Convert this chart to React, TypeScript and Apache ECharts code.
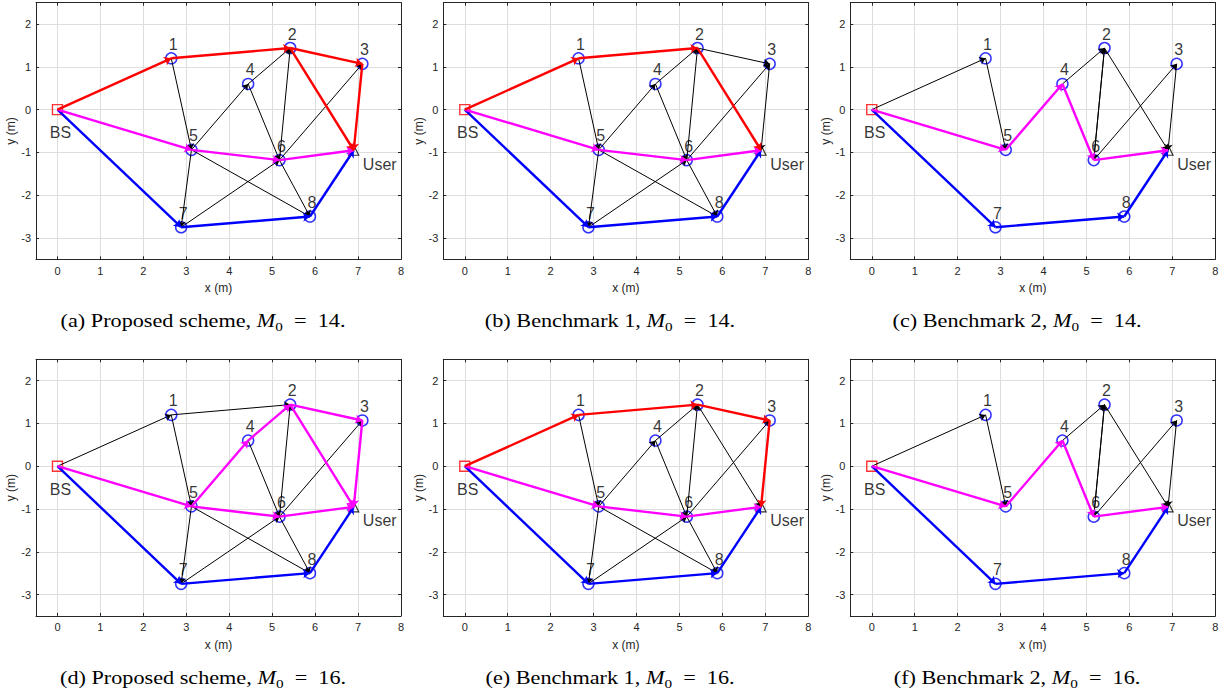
import React, { useEffect, useRef } from 'react';
import * as echarts from 'echarts';

// ---------- data ----------
const NODE_NAMES = ['BS', '1', '2', '3', '4', '5', '6', '7', '8', 'User'];
const NODE_X = [0, 2.65, 5.42, 7.1, 4.44, 3.12, 5.17, 2.88, 5.88, 6.9];
const NODE_Y = [0, 1.2, 1.44, 1.07, 0.6, -0.94, -1.18, -2.75, -2.5, -0.95];

const X_TICKS = [0, 1, 2, 3, 4, 5, 6, 7, 8];
const Y_TICKS = [-3, -2, -1, 0, 1, 2];
const X_MIN = -0.5;
const X_MAX = 8;
const Y_MIN = -3.5;
const Y_MAX = 2.5;

const PANEL_TAGS = ['(a)', '(b)', '(c)', '(d)', '(e)', '(f)'];
const PANEL_SCHEMES = ['Proposed scheme', 'Benchmark 1', 'Benchmark 2', 'Proposed scheme', 'Benchmark 1', 'Benchmark 2'];
const PANEL_M0 = [14, 14, 14, 16, 16, 16];

// edges: [from, to]
const A_RED = [['BS', '1'], ['1', '2'], ['2', '3'], ['2', 'User'], ['3', 'User']];
const A_MAGENTA = [['BS', '5'], ['5', '6'], ['6', 'User']];
const A_BLUE = [['BS', '7'], ['7', '8'], ['8', 'User']];
const A_BLACK = [['1', '5'], ['5', '4'], ['4', '2'], ['4', '6'], ['6', '2'], ['6', '3'], ['5', '7'], ['7', '6'], ['5', '8'], ['6', '8']];

const B_RED = [['BS', '1'], ['1', '2'], ['2', 'User']];
const B_MAGENTA = [['BS', '5'], ['5', '6'], ['6', 'User']];
const B_BLUE = [['BS', '7'], ['7', '8'], ['8', 'User']];
const B_BLACK = [['2', '3'], ['3', 'User'], ['1', '5'], ['5', '4'], ['4', '2'], ['4', '6'], ['6', '2'], ['6', '3'], ['5', '7'], ['7', '6'], ['5', '8'], ['6', '8']];

const C_RED: string[][] = [];
const C_MAGENTA = [['BS', '5'], ['5', '4'], ['4', '6'], ['6', 'User']];
const C_BLUE = [['BS', '7'], ['7', '8'], ['8', 'User']];
const C_BLACK = [['BS', '1'], ['1', '5'], ['4', '2'], ['6', '2'], ['2', '6'], ['2', 'User'], ['6', '3'], ['3', 'User']];

const D_RED: string[][] = [];
const D_MAGENTA = [['BS', '5'], ['5', '4'], ['4', '2'], ['2', '3'], ['3', 'User'], ['2', 'User'], ['5', '6'], ['6', 'User']];
const D_BLUE = [['BS', '7'], ['7', '8'], ['8', 'User']];
const D_BLACK = [['BS', '1'], ['1', '2'], ['1', '5'], ['4', '6'], ['6', '2'], ['6', '3'], ['5', '7'], ['7', '6'], ['5', '8'], ['6', '8']];

const E_RED = [['BS', '1'], ['1', '2'], ['2', '3'], ['3', 'User']];
const E_MAGENTA = [['BS', '5'], ['5', '6'], ['6', 'User']];
const E_BLUE = [['BS', '7'], ['7', '8'], ['8', 'User']];
const E_BLACK = [['1', '5'], ['5', '4'], ['4', '2'], ['4', '6'], ['6', '2'], ['6', '3'], ['2', 'User'], ['5', '7'], ['7', '6'], ['5', '8'], ['6', '8']];

const F_RED: string[][] = [];
const F_MAGENTA = [['BS', '5'], ['5', '4'], ['4', '6'], ['6', 'User']];
const F_BLUE = [['BS', '7'], ['7', '8'], ['8', 'User']];
const F_BLACK = [['BS', '1'], ['1', '5'], ['4', '2'], ['6', '2'], ['2', '6'], ['2', 'User'], ['6', '3'], ['3', 'User']];

const PANEL_EDGES = [
  { red: A_RED, magenta: A_MAGENTA, blue: A_BLUE, black: A_BLACK },
  { red: B_RED, magenta: B_MAGENTA, blue: B_BLUE, black: B_BLACK },
  { red: C_RED, magenta: C_MAGENTA, blue: C_BLUE, black: C_BLACK },
  { red: D_RED, magenta: D_MAGENTA, blue: D_BLUE, black: D_BLACK },
  { red: E_RED, magenta: E_MAGENTA, blue: E_BLUE, black: E_BLACK },
  { red: F_RED, magenta: F_MAGENTA, blue: F_BLUE, black: F_BLACK },
];

// ---------- layout / style ----------
const GRID_LEFTS = [36, 443.3, 850.3];
const GRID_TOPS = [2.7, 359.3];
const GRID_W = 365;
const GRID_H = 256.6;
const CAPTION_X = [203, 610, 1017];
const CAPTION_Y = [321, 678];

const SANS = 'Liberation Sans, Arial, sans-serif';
const SERIF = 'Liberation Serif, Times New Roman, serif';
const AXIS_COLOR = '#262626';
const GRID_COLOR = '#dedede';

function nodePos(name: string): number[] {
  const i = NODE_NAMES.indexOf(name);
  return [NODE_X[i], NODE_Y[i]];
}

function nodeLabel(offset: number[]) {
  return {
    show: true,
    position: 'inside',
    offset,
    formatter: '{b}',
    fontFamily: SANS,
    fontSize: 16,
    color: '#000000',
    textBorderWidth: 0,
    textBorderColor: 'transparent',
  };
}

function buildOption() {
  const grid: any[] = [];
  const xAxis: any[] = [];
  const yAxis: any[] = [];
  const series: any[] = [];
  const graphic: any[] = [];

  for (let p = 0; p < 6; p++) {
    const r = Math.floor(p / 3);
    const c = p % 3;
    grid.push({
      left: GRID_LEFTS[c],
      top: GRID_TOPS[r],
      width: GRID_W,
      height: GRID_H,
      containLabel: false,
      outerBoundsMode: 'none',
    });
    const axisLine = { show: true, onZero: false, lineStyle: { color: AXIS_COLOR, width: 1 } };
    xAxis.push({
      gridIndex: p,
      type: 'value',
      position: 'bottom',
      min: X_MIN,
      max: X_MAX,
      name: 'x (m)',
      nameLocation: 'middle',
      nameGap: 23,
      nameTextStyle: { fontFamily: SANS, fontSize: 12, color: AXIS_COLOR },
      axisLine,
      axisTick: { show: true, inside: true, length: 3, customValues: X_TICKS, lineStyle: { color: AXIS_COLOR } },
      axisLabel: { show: true, customValues: X_TICKS, margin: 6, fontFamily: SANS, fontSize: 11, color: AXIS_COLOR },
      splitLine: { show: true, lineStyle: { color: GRID_COLOR, width: 1 } },
    });
    xAxis.push({
      gridIndex: p,
      type: 'value',
      position: 'top',
      min: X_MIN,
      max: X_MAX,
      axisLine,
      axisTick: { show: true, inside: true, length: 3, customValues: X_TICKS, lineStyle: { color: AXIS_COLOR } },
      axisLabel: { show: false },
      splitLine: { show: false },
    });
    yAxis.push({
      gridIndex: p,
      type: 'value',
      position: 'left',
      min: Y_MIN,
      max: Y_MAX,
      name: 'y (m)',
      nameLocation: 'middle',
      nameGap: 17,
      nameTextStyle: { fontFamily: SANS, fontSize: 12, color: AXIS_COLOR },
      axisLine,
      axisTick: { show: true, inside: true, length: 3, customValues: Y_TICKS, lineStyle: { color: AXIS_COLOR } },
      axisLabel: { show: true, customValues: Y_TICKS, margin: 5, fontFamily: SANS, fontSize: 11, color: AXIS_COLOR },
      splitLine: { show: true, lineStyle: { color: GRID_COLOR, width: 1 } },
    });
    yAxis.push({
      gridIndex: p,
      type: 'value',
      position: 'right',
      min: Y_MIN,
      max: Y_MAX,
      axisLine,
      axisTick: { show: true, inside: true, length: 3, customValues: Y_TICKS, lineStyle: { color: AXIS_COLOR } },
      axisLabel: { show: false },
      splitLine: { show: false },
    });

    const xi = 2 * p;
    const yi = 2 * p;

    // relay nodes
    series.push({
      type: 'scatter',
      xAxisIndex: xi,
      yAxisIndex: yi,
      silent: true,
      z: 1,
      symbol: 'circle',
      symbolSize: 11,
      itemStyle: { color: 'rgba(0,0,0,0)', borderColor: '#0000ff', borderWidth: 1.5 },
      label: nodeLabel([2, -14]),
      data: NODE_NAMES.filter((n) => n !== 'BS' && n !== 'User').map((n) => ({ name: n, value: nodePos(n) })),
    });
    // BS
    series.push({
      type: 'scatter',
      xAxisIndex: xi,
      yAxisIndex: yi,
      silent: true,
      z: 1,
      symbol: 'rect',
      symbolSize: 10,
      itemStyle: { color: 'rgba(0,0,0,0)', borderColor: '#ff0000', borderWidth: 1.4 },
      label: nodeLabel([3, 23]),
      data: [{ name: 'BS', value: nodePos('BS') }],
    });
    // User
    series.push({
      type: 'scatter',
      xAxisIndex: xi,
      yAxisIndex: yi,
      silent: true,
      z: 1,
      symbol: 'triangle',
      symbolSize: 10,
      itemStyle: { color: 'rgba(0,0,0,0)', borderColor: '#000000', borderWidth: 1.2 },
      label: nodeLabel([26, 14]),
      data: [{ name: 'User', value: nodePos('User') }],
    });

    const edges = PANEL_EDGES[p];
    const groups: [string[][], string, number, number, number][] = [
      [edges.black, '#000000', 1, 6, 2],
      [edges.blue, '#0000ff', 2.4, 7, 3],
      [edges.magenta, '#ff00ff', 2.4, 7, 3],
      [edges.red, '#ff0000', 2.4, 7, 3],
    ];
    groups.forEach(([list, color, width, size, z]) => {
      if (!list.length) return;
      series.push({
        type: 'lines',
        coordinateSystem: 'cartesian2d',
        xAxisIndex: xi,
        yAxisIndex: yi,
        silent: true,
        z,
        symbol: ['none', 'arrow'],
        symbolSize: size,
        lineStyle: { color, width, opacity: 1 },
        data: list.map(([a, b]) => ({ coords: [nodePos(a), nodePos(b)] })),
      });
    });

    graphic.push({
      type: 'text',
      x: CAPTION_X[c],
      y: CAPTION_Y[r],
      scaleX: 1.17,
      silent: true,
      style: {
        text: `${PANEL_TAGS[p]} ${PANEL_SCHEMES[p]}, {it|M}{sub|0}\u2002=\u2002${PANEL_M0[p]}.`,
        align: 'center',
        verticalAlign: 'middle',
        fontFamily: SERIF,
        fontSize: 19,
        fill: '#000',
        rich: {
          it: { fontFamily: SERIF, fontSize: 19, fontStyle: 'italic', fill: '#000' },
          sub: { fontFamily: SERIF, fontSize: 13, fill: '#000', padding: [10, 0, 0, 0] },
        },
      },
    });
  }

  return {
    animation: false,
    backgroundColor: '#ffffff',
    grid,
    xAxis,
    yAxis,
    series,
    graphic,
  };
}

export default function App() {
  const ref = useRef<HTMLDivElement>(null);
  useEffect(() => {
    if (!ref.current) return;
    const chart = echarts.init(ref.current, null, { renderer: 'svg' });
    chart.setOption(buildOption() as any);
    return () => chart.dispose();
  }, []);
  return (
    <div
      ref={ref}
      style={{ position: 'fixed', left: 0, top: 0, width: 1222, height: 692, background: '#ffffff' }}
    />
  );
}
